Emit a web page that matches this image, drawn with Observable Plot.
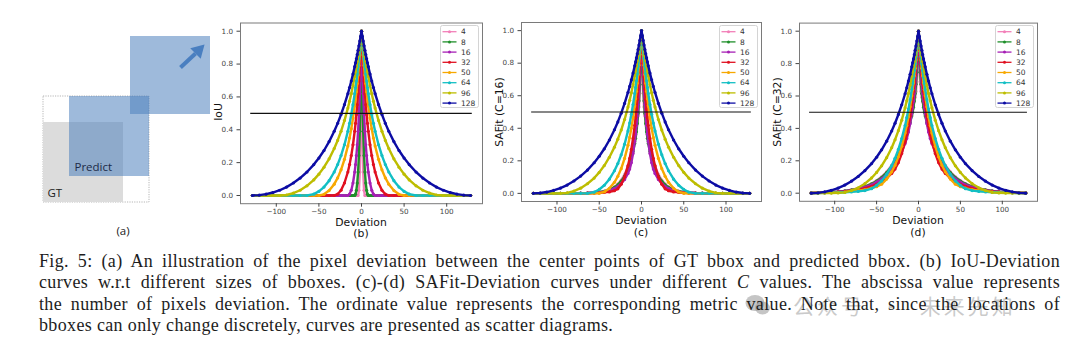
<!DOCTYPE html>
<html>
<head>
<meta charset="utf-8">
<script src="https://cdn.jsdelivr.net/npm/d3@7"></script>
<script src="https://cdn.jsdelivr.net/npm/@observablehq/plot@0.6"></script>
<style>
  html, body { margin: 0; padding: 0; background: #fff; }
  #fig { position: relative; width: 1080px; height: 353px; overflow: hidden; background: #fff; font-family: "DejaVu Sans", sans-serif; }
  .abs { position: absolute; }
  .lbl { position: absolute; transform: translate(-50%, -50%); white-space: nowrap; color: #111; line-height: 1; }
  .ylab { position: absolute; transform: translate(-50%, -50%) rotate(-90deg); white-space: nowrap; color: #111; font-size: 10.8px; line-height: 1; }
  #caption { position: absolute; left: 39px; top: 251px; width: 1021px; font-family: "Liberation Serif", serif; font-size: 18px; letter-spacing: 0.35px; line-height: 21.3px; color: #1d1d1d; }
  #caption .j { text-align: justify; text-align-last: justify; white-space: nowrap; }
  #wm { position: absolute; left: 745px; top: 295px; height: 20px; width: 300px; font-family: "Noto Sans CJK SC", sans-serif; font-size: 21px; line-height: 20px; color: rgba(150,150,150,0.5); white-space: pre; }
</style>
</head>
<body>
<div id="fig"></div>
<script>
// ---------------- data ----------------
// absolute pixel deviation at which values were read (curves are symmetric about 0)
const absDeviation = [0,1,2,3,4,5,6,7,8,10,12,14,16,20,24,28,32,38,44,50,56,64,72,80,88,96,104,112,120,128];
const boxSizes = ["4","8","16","32","50","64","96","128"];
const seriesColors = ["#f27fb8","#1f8f2a","#a61fb5","#e01020","#f7a800","#12bfc4","#bdbd00","#0c0ca4"];

// (b) IoU
const iou_4   = [1,.391,.143,.032,0,0,0,0,0,0, 0,0,0,0,0,0,0,0,0,0, 0,0,0,0,0,0,0,0,0,0];
const iou_8   = [1,.620,.391,.243,.143,.076,.032,.008,0,0, 0,0,0,0,0,0,0,0,0,0, 0,0,0,0,0,0,0,0,0,0];
const iou_16  = [1,.784,.620,.493,.391,.309,.243,.188,.143,.076, .032,.008,0,0,0,0,0,0,0,0, 0,0,0,0,0,0,0,0,0,0];
const iou_32  = [1,.884,.784,.697,.620,.553,.493,.439,.391,.309, .243,.188,.143,.076,.032,.008,0,0,0,0, 0,0,0,0,0,0,0,0,0,0];
const iou_50  = [1,.924,.855,.791,.734,.681,.632,.587,.545,.471, .406,.350,.301,.220,.156,.107,.069,.030,.007,0, 0,0,0,0,0,0,0,0,0,0];
const iou_64  = [1,.940,.884,.832,.784,.739,.697,.657,.620,.553, .493,.439,.391,.309,.243,.188,.143,.090,.051,.025, .008,0,0,0,0,0,0,0,0,0];
const iou_96  = [1,.959,.921,.884,.849,.816,.784,.754,.725,.670, .620,.574,.532,.456,.391,.335,.286,.223,.172,.130, .095,.059,.032,.014,.003,0,0,0,0,0];
const iou_128 = [1,.969,.940,.911,.884,.858,.832,.808,.784,.739, .697,.657,.620,.553,.493,.439,.391,.328,.274,.228, .188,.143,.106,.076,.051,.032,.018,.008,.002,0];

// (c) SAFit, C=16
const safit16_4   = [1,.747,.615,.531,.477,.436,.400,.366,.335,.281, .235,.197,.165,.116,.081,.057,.040,.024,.014,.008, .005,.002,.001,0,0,0,0,0,0,0];
const safit16_8   = [1,.804,.669,.569,.491,.429,.378,.338,.307,.257, .215,.180,.151,.106,.075,.052,.037,.022,.013,.007, .004,.002,.001,0,0,0,0,0,0,0];
const safit16_16  = [1,.850,.729,.630,.547,.476,.416,.363,.318,.245, .189,.149,.122,.085,.060,.042,.030,.017,.010,.006, .004,.002,.001,0,0,0,0,0,0,0];
const safit16_32  = [1,.892,.799,.716,.642,.577,.519,.466,.418,.337, .271,.215,.170,.101,.056,.028,.016,.009,.006,.003, .002,.001,0,0,0,0,0,0,0,0];
const safit16_50  = [1,.923,.853,.788,.731,.677,.627,.582,.539,.465, .400,.344,.295,.215,.152,.105,.068,.031,.009,.001, .001,0,0,0,0,0,0,0,0,0];
const safit16_64  = [1,.939,.882,.829,.780,.735,.692,.651,.614,.546, .486,.432,.384,.302,.237,.183,.139,.087,.050,.024, .008,0,0,0,0,0,0,0,0,0];
const safit16_96  = [1,.959,.920,.883,.848,.815,.783,.752,.723,.668, .618,.572,.530,.454,.389,.333,.284,.222,.171,.129, .094,.059,.032,.014,.003,0,0,0,0,0];
const safit16_128 = [1,.969,.940,.911,.884,.858,.832,.808,.784,.739, .697,.657,.620,.553,.493,.439,.391,.328,.274,.228, .188,.143,.106,.076,.051,.032,.018,.008,.002,0];

// (d) SAFit, C=32
const safit32_4   = [1,.790,.688,.628,.592,.566,.542,.518,.496,.454, .415,.380,.348,.292,.244,.205,.172,.132,.101,.078, .059,.042,.029,.021,.014,.010,.007,.005,.004,.002];
const safit32_8   = [1,.849,.747,.673,.615,.569,.531,.501,.477,.436, .400,.366,.335,.281,.235,.197,.165,.127,.097,.075, .057,.040,.028,.020,.014,.010,.007,.005,.003,.002];
const safit32_16  = [1,.892,.804,.731,.669,.615,.569,.528,.491,.429, .378,.338,.307,.257,.215,.180,.151,.116,.089,.068, .052,.037,.026,.018,.013,.009,.006,.004,.003,.002];
const safit32_32  = [1,.920,.850,.786,.729,.677,.630,.587,.547,.476, .416,.363,.318,.245,.189,.149,.122,.093,.072,.055, .042,.030,.021,.015,.010,.007,.005,.004,.003,.002];
const safit32_50  = [1,.936,.877,.822,.772,.725,.681,.640,.602,.533, .472,.418,.371,.290,.225,.173,.132,.087,.056,.040, .031,.021,.015,.011,.007,.005,.004,.003,.002,.001];
const safit32_64  = [1,.945,.892,.844,.799,.756,.716,.678,.642,.577, .519,.466,.418,.337,.271,.215,.170,.116,.076,.048, .028,.016,.011,.008,.006,.004,.003,.002,.001,.001];
const safit32_96  = [1,.959,.920,.883,.848,.814,.782,.752,.722,.667, .616,.570,.527,.451,.386,.330,.281,.219,.169,.128, .094,.059,.033,.016,.005,.002,.001,.001,.001,0];
const safit32_128 = [1,.968,.939,.909,.882,.855,.829,.805,.780,.734, .692,.651,.614,.546,.486,.432,.384,.321,.268,.222, .183,.139,.103,.074,.050,.031,.018,.008,.002,0];

const xTicks = [-100,-50,0,50,100];
const yTicks = [0,0.2,0.4,0.6,0.8,1.0];
const threshold = [0.5];
const thresholdSpan = [-130, 130];

// (a) illustration: GT box and predicted boxes (box units), shifted diagonally
const illBoxSize = 80;
const illShiftX = [0, 26, 87];
const illShiftY = [0, 26, 88];
const illArrowFrom = [137, 135];
const illArrowTo = [155, 152];

// ---------------- layout ----------------
const fig = document.getElementById("fig");
function addDiv(cls, html, left, top, extra) {
  const d = document.createElement("div");
  d.className = cls; d.innerHTML = html;
  d.style.left = left + "px"; d.style.top = top + "px";
  if (extra) Object.assign(d.style, extra);
  fig.appendChild(d); return d;
}

// ----- panel (a) -----
{
  const gt = {x1: illShiftX[0], x2: illShiftX[0] + illBoxSize, y1: illShiftY[0], y2: illShiftY[0] + illBoxSize};
  const p1 = {x1: illShiftX[1], x2: illShiftX[1] + illBoxSize, y1: illShiftY[1], y2: illShiftY[1] + illBoxSize};
  const p2 = {x1: illShiftX[2], x2: illShiftX[2] + illBoxSize, y1: illShiftY[2], y2: illShiftY[2] + illBoxSize - 2};
  const outer = {x1: Math.min(gt.x1, p1.x1), x2: Math.max(gt.x2, p1.x2), y1: Math.min(gt.y1, p1.y1), y2: Math.max(gt.y2, p1.y2)};
  const chartA = Plot.plot({
    width: 220, height: 240, margin: 0,
    x: {domain: [-43, 177], axis: null},
    y: {domain: [-38, 202], axis: null},
    style: {background: "transparent"},
    marks: [
      Plot.rect([outer], {x1: "x1", x2: "x2", y1: "y1", y2: "y2", fill: "#fff", stroke: "#b5b5b5", strokeWidth: 1, strokeDasharray: "1.2,1.2"}),
      Plot.rect([gt], {x1: "x1", x2: "x2", y1: "y1", y2: "y2", fill: "#dcdcdc"}),
      Plot.rect([p1], {x1: "x1", x2: "x2", y1: "y1", y2: "y2", fill: "#4f81bd", fillOpacity: 0.55}),
      Plot.rect([p2], {x1: "x1", x2: "x2", y1: "y1", y2: "y2", fill: "#4f81bd", fillOpacity: 0.55}),
      Plot.link([{a: illArrowFrom, b: illArrowTo}], {x1: d => d.a[0], y1: d => d.a[1], x2: d => d.b[0] - 3, y2: d => d.b[1] - 3, stroke: "#4a7fc0", strokeWidth: 4}),
      Plot.dot([illArrowTo], {x: d => d[0], y: d => d[1], symbol: "triangle", rotate: 45, r: 5.5, fill: "#4a7fc0", stroke: "none"}),
      Plot.text(["Predict"], {x: p1.x1 + 5, y: p1.y1 + 9, text: d => d, textAnchor: "start", fontSize: 11.5, fill: "#1c2a48", fontFamily: "Open Sans"}),
      Plot.text(["GT"], {x: gt.x1 + 4, y: gt.y1 + 9, text: d => d, textAnchor: "start", fontSize: 11.5, fill: "#222", fontFamily: "Open Sans"})
    ]
  });
  chartA.style.position = "absolute"; chartA.style.left = "0px"; chartA.style.top = "0px";
  fig.appendChild(chartA);
  addDiv("lbl", "(a)", 123, 231, {fontFamily: "Open Sans", fontSize: "11.5px", color: "#222"});
}

// ----- panels (b)(c)(d) -----
function curveRows(values) {
  const rows = [];
  for (let j = absDeviation.length - 1; j > 0; j--) rows.push({d: -absDeviation[j], v: values[j]});
  for (let j = 0; j < absDeviation.length; j++) rows.push({d: absDeviation[j], v: values[j]});
  return rows;
}

const panels = [
  {tag: "(b)", ylabel: "IoU", left: 215, width: 270, mt: 22.5, mb: 36.8, labY: 222.5, series: [iou_4, iou_8, iou_16, iou_32, iou_50, iou_64, iou_96, iou_128]},
  {tag: "(c)", ylabel: "SAFit (C=16)", left: 496, width: 268, mt: 22, mb: 39, labY: 221, series: [safit16_4, safit16_8, safit16_16, safit16_32, safit16_50, safit16_64, safit16_96, safit16_128]},
  {tag: "(d)", ylabel: "SAFit (C=32)", left: 774, width: 266, mt: 22.6, mb: 39.2, labY: 221, series: [safit32_4, safit32_8, safit32_16, safit32_32, safit32_50, safit32_64, safit32_96, safit32_128]}
];

panels.forEach(p => {
  const ml = 25, mr = 3, H = 240;
  const marks = [Plot.frame({stroke: "#7a7a7a", strokeWidth: 1})];
  p.series.forEach((vals, i) => {
    const rows = curveRows(vals);
    marks.push(Plot.line(rows, {x: "d", y: "v", stroke: seriesColors[i], strokeWidth: 2.4}));
    marks.push(Plot.dot(rows, {x: "d", y: "v", fill: seriesColors[i], r: 1.6, stroke: "none"}));
  });
  marks.push(Plot.ruleY(threshold, {x1: () => thresholdSpan[0], x2: () => thresholdSpan[1], stroke: "#111", strokeWidth: 1.1}));
  marks.push(Plot.axisX(xTicks, {tickSize: 3.5, tickPadding: 2, tickFormat: d3.format("d"), label: null, color: "#444", fontSize: 7.2}));
  marks.push(Plot.axisY(yTicks, {tickSize: 3.5, tickPadding: 4, tickFormat: d3.format(".1f"), label: null, color: "#444", fontSize: 7.2}));
  const chart = Plot.plot({
    width: p.width, height: H,
    marginLeft: ml, marginRight: mr, marginTop: p.mt, marginBottom: p.mb,
    x: {domain: [-142, 142], label: null},
    y: {domain: [-0.05, 1.05], label: null},
    style: {background: "transparent", fontFamily: "DejaVu Sans"},
    marks
  });
  chart.style.position = "absolute"; chart.style.left = p.left + "px"; chart.style.top = "0px";
  fig.appendChild(chart);

  const frameLeft = p.left + ml, frameRight = p.left + p.width - mr;
  const cx = (frameLeft + frameRight) / 2;
  addDiv("ylab", p.ylabel, frameLeft - 21, 112);
  addDiv("lbl", "Deviation", cx, p.labY, {fontSize: "10.8px"});
  addDiv("lbl", p.tag, cx, p.labY + 11.5, {fontSize: "10.8px"});

  // legend
  const lw = 39, lh = 83, rowH = 10.2;
  let svg = `<svg width="${lw}" height="${lh}" xmlns="http://www.w3.org/2000/svg" style="display:block">`;
  svg += `<rect x="0.5" y="0.5" width="${lw - 1}" height="${lh - 1}" rx="2" fill="rgba(255,255,255,0.85)" stroke="#d4d4d4"/>`;
  boxSizes.forEach((s, i) => {
    const cy = 6.7 + i * rowH;
    svg += `<line x1="2.5" x2="16.5" y1="${cy}" y2="${cy}" stroke="${seriesColors[i]}" stroke-width="1.3"/>`;
    svg += `<circle cx="9.5" cy="${cy}" r="1.5" fill="${seriesColors[i]}"/>`;
    svg += `<text x="21" y="${cy}" dy="0.35em" font-size="7.5" font-family="DejaVu Sans" fill="#333">${s}</text>`;
  });
  svg += `</svg>`;
  addDiv("abs", svg, frameRight - 42, 25);
});

// ----- watermark (faint, behind caption) -----
const wm = document.createElement("div");
wm.id = "wm";
wm.innerHTML = `<svg width="26" height="22" viewBox="0 0 26 22" style="position:absolute;left:0;top:-1px"><ellipse cx="10" cy="9" rx="9.5" ry="8" fill="rgba(150,150,150,0.55)"/><ellipse cx="17.5" cy="14" rx="7.5" ry="6.5" fill="rgba(150,150,150,0.55)"/></svg>`
  + `<span style="position:absolute;left:48px;top:0;letter-spacing:3px">公众号  ·  未来先知</span>`;
fig.appendChild(wm);

// ----- caption -----
const capLines = [
  "Fig. 5: (a) An illustration of the pixel deviation between the center points of GT bbox and predicted bbox. (b) IoU-Deviation",
  "curves w.r.t different sizes of bboxes. (c)-(d) SAFit-Deviation curves under different <i>C</i> values. The abscissa value represents",
  "the number of pixels deviation. The ordinate value represents the corresponding metric value. Note that, since the locations of",
  "bboxes can only change discretely, curves are presented as scatter diagrams."
];
const cap = document.createElement("div");
cap.id = "caption";
cap.innerHTML = capLines.map((t, i) => `<div class="${i < 3 ? "j" : ""}">${t}</div>`).join("");
fig.appendChild(cap);
</script>
</body>
</html>
